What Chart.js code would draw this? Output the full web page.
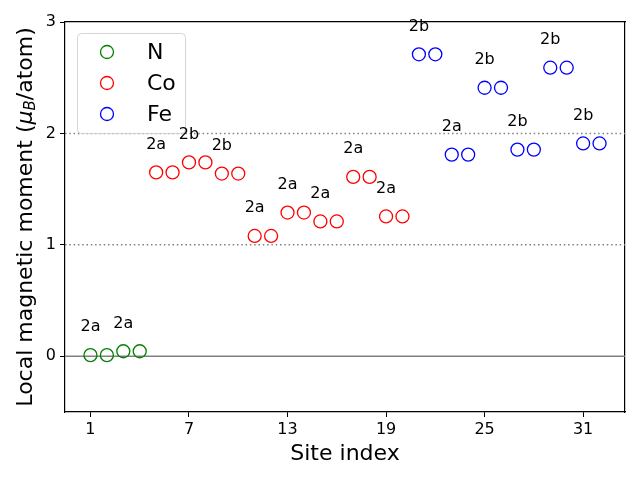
<!DOCTYPE html>
<html>
<head>
<meta charset="utf-8">
<script src="https://cdn.jsdelivr.net/npm/chart.js@4/dist/chart.umd.min.js"></script>
<style>
  html, body { margin: 0; padding: 0; background: #fff; }
  #wrap { width: 640px; height: 480px; }
</style>
</head>
<body>
<div id="wrap"><canvas id="myChart" width="640" height="480"></canvas></div>
<script>
const nSites = [1, 2, 3, 4];
const nMoments = [0.01, 0.01, 0.045, 0.045];

const coSites = [5, 6, 7, 8, 9, 10, 11, 12, 13, 14, 15, 16, 17, 18, 19, 20];
const coMoments = [1.65, 1.65, 1.74, 1.74, 1.64, 1.64, 1.08, 1.08,
                   1.29, 1.29, 1.21, 1.21, 1.61, 1.61, 1.255, 1.255];

const feSites = [21, 22, 23, 24, 25, 26, 27, 28, 29, 30, 31, 32];
const feMoments = [2.71, 2.71, 1.81, 1.81, 2.41, 2.41, 1.855, 1.855, 2.59, 2.59, 1.91, 1.91];

// wyckoff label drawn above the first site of each pair
const wyckoffSites = [1, 3, 5, 7, 9, 11, 13, 15, 17, 19, 21, 23, 25, 27, 29, 31];
const wyckoffLabels = ["2a", "2a", "2a", "2b", "2b", "2a", "2a", "2a",
                       "2a", "2a", "2b", "2a", "2b", "2b", "2b", "2b"];

const xTicks = [1, 7, 13, 19, 25, 31];
const yTicks = [0, 1, 2, 3];
const solidLines = [0];
const dottedLines = [1, 2];

const font = "DejaVu Sans";

function toPoints(xs, ys) {
  return xs.map((x, i) => ({ x: x, y: ys[i] }));
}

function allMoments() {
  const m = {};
  nSites.forEach((s, i) => (m[s] = nMoments[i]));
  coSites.forEach((s, i) => (m[s] = coMoments[i]));
  feSites.forEach((s, i) => (m[s] = feMoments[i]));
  return m;
}

const refLinePlugin = {
  id: "refLines",
  beforeDatasetsDraw(chart) {
    const ctx = chart.ctx;
    const a = chart.chartArea;
    const y = chart.scales.y;
    ctx.save();
    ctx.strokeStyle = "#808080";
    ctx.lineWidth = 1.5;
    solidLines.forEach((v) => {
      const py = y.getPixelForValue(v);
      ctx.beginPath();
      ctx.moveTo(a.left, py);
      ctx.lineTo(a.right, py);
      ctx.stroke();
    });
    ctx.setLineDash([1.5, 2.8]);
    dottedLines.forEach((v) => {
      const py = y.getPixelForValue(v);
      ctx.beginPath();
      ctx.moveTo(a.left, py);
      ctx.lineTo(a.right, py);
      ctx.stroke();
    });
    ctx.restore();
  },
};

const overlayPlugin = {
  id: "overlay",
  afterDraw(chart) {
    const ctx = chart.ctx;
    const a = chart.chartArea;
    const xs = chart.scales.x;
    const ys = chart.scales.y;
    ctx.save();

    // legend
    const lx = 77, ly = 33, lw = 108, lh = 100, r = 4;
    ctx.globalAlpha = 0.8;
    ctx.fillStyle = "#ffffff";
    ctx.strokeStyle = "#cccccc";
    ctx.lineWidth = 1;
    ctx.beginPath();
    ctx.roundRect(lx + 0.5, ly + 0.5, lw, lh, r);
    ctx.fill();
    ctx.stroke();
    ctx.globalAlpha = 1;
    chart.data.datasets.forEach((ds, i) => {
      const cy = 52 + i * 31;
      ctx.beginPath();
      ctx.arc(107, cy, 6.5, 0, Math.PI * 2);
      ctx.strokeStyle = ds.borderColor;
      ctx.lineWidth = 1.3;
      ctx.stroke();
      ctx.fillStyle = "#000";
      ctx.font = "22px '" + font + "'";
      ctx.textAlign = "left";
      ctx.textBaseline = "middle";
      ctx.fillText(ds.label, 147, cy + 1);
    });

    // wyckoff labels
    const m = allMoments();
    ctx.fillStyle = "#000";
    ctx.font = "16px '" + font + "'";
    ctx.textAlign = "center";
    ctx.textBaseline = "middle";
    wyckoffSites.forEach((s, i) => {
      ctx.fillText(wyckoffLabels[i], xs.getPixelForValue(s), ys.getPixelForValue(m[s] + 0.25));
    });

    // x title
    ctx.font = "22px '" + font + "'";
    ctx.textBaseline = "middle";
    ctx.fillText("Site index", (a.left + a.right) / 2, 454);

    // y title with subscript
    ctx.translate(26, (a.top + a.bottom) / 2);
    ctx.rotate(-Math.PI / 2);
    const big = "22px '" + font + "'";
    const bigIt = "italic 22px '" + font + "'";
    const small = "italic 15px '" + font + "'";
    const parts = [
      { t: "Local magnetic moment (", f: big, dy: 0 },
      { t: "\u03bc", f: bigIt, dy: 0 },
      { t: "B", f: small, dy: 5 },
      { t: "/atom)", f: big, dy: 0 },
    ];
    let total = 0;
    parts.forEach((p) => {
      ctx.font = p.f;
      p.w = ctx.measureText(p.t).width;
      total += p.w;
    });
    let cx = -total / 2;
    ctx.textAlign = "left";
    ctx.textBaseline = "middle";
    parts.forEach((p) => {
      ctx.font = p.f;
      ctx.fillText(p.t, cx, p.dy);
      cx += p.w;
    });
    ctx.restore();
  },
};

const circleStyle = {
  pointStyle: "circle",
  pointRadius: 6.5,
  pointHoverRadius: 6.5,
  pointBorderWidth: 1.3,
  backgroundColor: "rgba(0,0,0,0)",
  showLine: false,
};

new Chart(document.getElementById("myChart"), {
  type: "scatter",
  data: {
    datasets: [
      Object.assign({ label: "N", data: toPoints(nSites, nMoments), borderColor: "#008000" }, circleStyle),
      Object.assign({ label: "Co", data: toPoints(coSites, coMoments), borderColor: "#ff0000" }, circleStyle),
      Object.assign({ label: "Fe", data: toPoints(feSites, feMoments), borderColor: "#0000ff" }, circleStyle),
    ],
  },
  options: {
    responsive: false,
    animation: false,
    layout: { padding: { top: 22, right: 15, left: 0, bottom: 0 } },
    plugins: {
      legend: { display: false },
      tooltip: { enabled: false },
    },
    scales: {
      x: {
        type: "linear",
        min: -0.55,
        max: 33.55,
        afterBuildTicks: (s) => { s.ticks = xTicks.map((v) => ({ value: v })); },
        afterFit: (s) => { s.height = 68; },
        grid: { drawOnChartArea: false, drawTicks: true, tickLength: 5, color: "#000", tickWidth: 1 },
        border: { color: "#000", width: 1.2 },
        ticks: { color: "#000", font: { family: font, size: 16 }, padding: 3, maxRotation: 0 },
      },
      y: {
        type: "linear",
        min: -0.5,
        max: 3,
        afterBuildTicks: (s) => { s.ticks = yTicks.map((v) => ({ value: v })); },
        afterFit: (s) => { s.width = 65; },
        grid: { drawOnChartArea: false, drawTicks: true, tickLength: 5, color: "#000", tickWidth: 1 },
        border: { color: "#000", width: 1.2 },
        ticks: { color: "#000", font: { family: font, size: 16 }, padding: 4 },
      },
      x2: {
        type: "linear", position: "top", min: -0.55, max: 33.55,
        afterFit: (s) => { s.height = 0; },
        grid: { display: false }, ticks: { display: false },
        border: { color: "#000", width: 1.2 },
      },
      y2: {
        type: "linear", position: "right", min: -0.5, max: 3,
        afterFit: (s) => { s.width = 0; },
        grid: { display: false }, ticks: { display: false },
        border: { color: "#000", width: 1.2 },
      },
    },
  },
  plugins: [refLinePlugin, overlayPlugin],
});
</script>
</body>
</html>
